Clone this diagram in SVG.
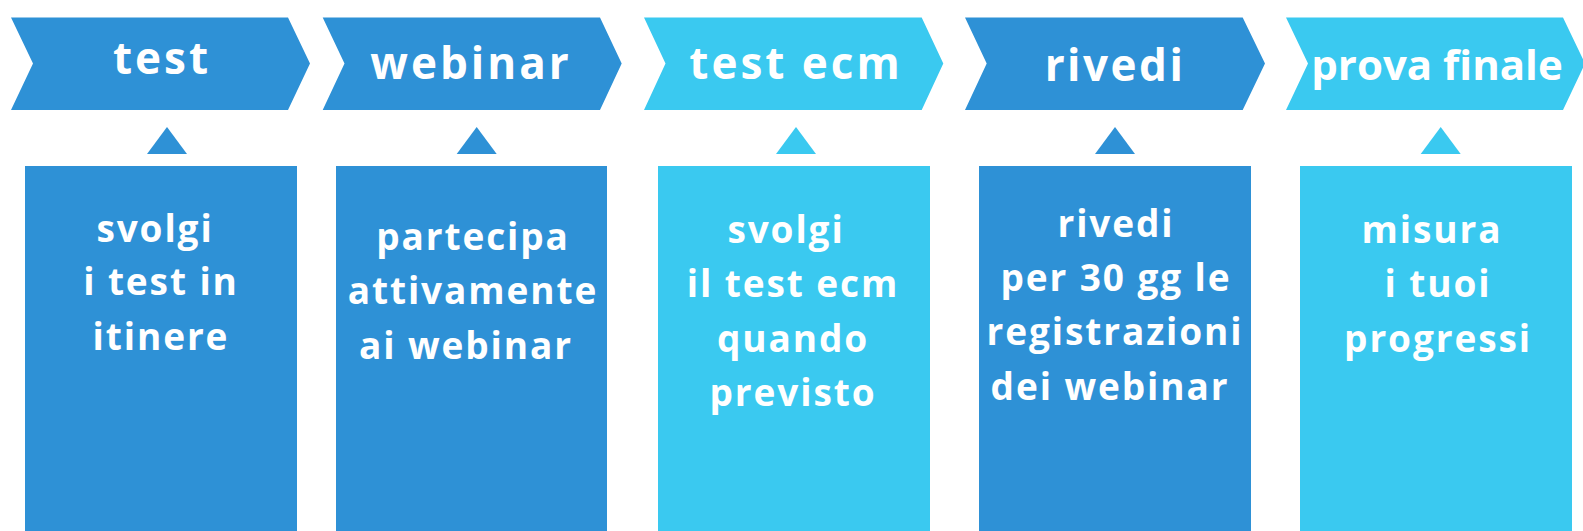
<svg xmlns="http://www.w3.org/2000/svg" width="1583" height="531" viewBox="0 0 1583 531">
<style>
.dark{fill:#2E91D6}
.light{fill:#3AC9F0}
.hd{font-family:"Open Sans","Liberation Sans",sans-serif;font-weight:700;font-size:44px;fill:#fff;text-anchor:middle;letter-spacing:3px}
.bd{font-family:"Open Sans","Liberation Sans",sans-serif;font-weight:700;font-size:37px;fill:#fff;text-anchor:middle;letter-spacing:1.9px}
</style>
<rect width="1583" height="531" fill="#fff"/>
<g id="step-test">
<polygon class="dark" points="11,17.5 288,17.5 310,63.5 288,110 11,110 33,63.5"/>
<text class="hd" x="162" y="74">test</text>
</g>
<g id="step-webinar">
<polygon class="dark" points="322.7,17.5 600,17.5 621.7,63.5 600,110 322.7,110 344.5,63.5"/>
<text class="hd" x="471" y="79">webinar</text>
</g>
<g id="step-test-ecm">
<polygon class="light" points="644,17.5 921.7,17.5 943.3,63.5 921.7,110 644,110 665.5,63.5"/>
<text class="hd" x="796" y="79">test ecm</text>
</g>
<g id="step-rivedi">
<polygon class="dark" points="965,17.5 1242.7,17.5 1265,63.5 1242.7,110 965,110 986.7,63.5"/>
<text class="hd" x="1115" y="81" style="letter-spacing:2.5px">rivedi</text>
</g>
<g id="step-prova-finale">
<polygon class="light" points="1286,17.5 1563,17.5 1585,63.5 1563,110 1286,110 1308,63.5"/>
<text class="hd" x="1437" y="80" style="letter-spacing:0;font-size:42px">prova finale</text>
</g>
<g id="connectors">
<polygon class="dark" points="167,127 147,154 187,154"/>
<polygon class="dark" points="476.7,127 456.7,154 496.7,154"/>
<polygon class="light" points="796,127 776,154 816,154"/>
<polygon class="dark" points="1115,127 1095,154 1135,154"/>
<polygon class="light" points="1440.7,127 1420.7,154 1460.7,154"/>
</g>
<g id="box-test">
<rect class="dark" x="25" y="166" width="272" height="365"/>
<text class="bd"><tspan x="155" y="241.7">svolgi</tspan><tspan x="161" y="295">i test in</tspan><tspan x="161" y="350">itinere</tspan></text>
</g>
<g id="box-webinar">
<rect class="dark" x="336" y="166" width="271" height="365"/>
<text class="bd"><tspan x="473" y="250">partecipa</tspan><tspan x="473" y="304">attivamente</tspan><tspan x="466" y="359.3">ai webinar</tspan></text>
</g>
<g id="box-test-ecm">
<rect class="light" x="658" y="166" width="272" height="365"/>
<text class="bd"><tspan x="786" y="243">svolgi</tspan><tspan x="793" y="297">il test ecm</tspan><tspan x="793" y="351.7">quando</tspan><tspan x="793" y="406">previsto</tspan></text>
</g>
<g id="box-rivedi">
<rect class="dark" x="979" y="166" width="272" height="365"/>
<text class="bd"><tspan x="1116" y="237.3">rivedi</tspan><tspan x="1116" y="290.7">per 30 gg le</tspan><tspan x="1115" y="345">registrazioni</tspan><tspan x="1110" y="400">dei webinar</tspan></text>
</g>
<g id="box-prova-finale">
<rect class="light" x="1300" y="166" width="272" height="365"/>
<text class="bd"><tspan x="1432" y="243.3">misura</tspan><tspan x="1438" y="297.3">i tuoi</tspan><tspan x="1438" y="351.7">progressi</tspan></text>
</g>
</svg>
